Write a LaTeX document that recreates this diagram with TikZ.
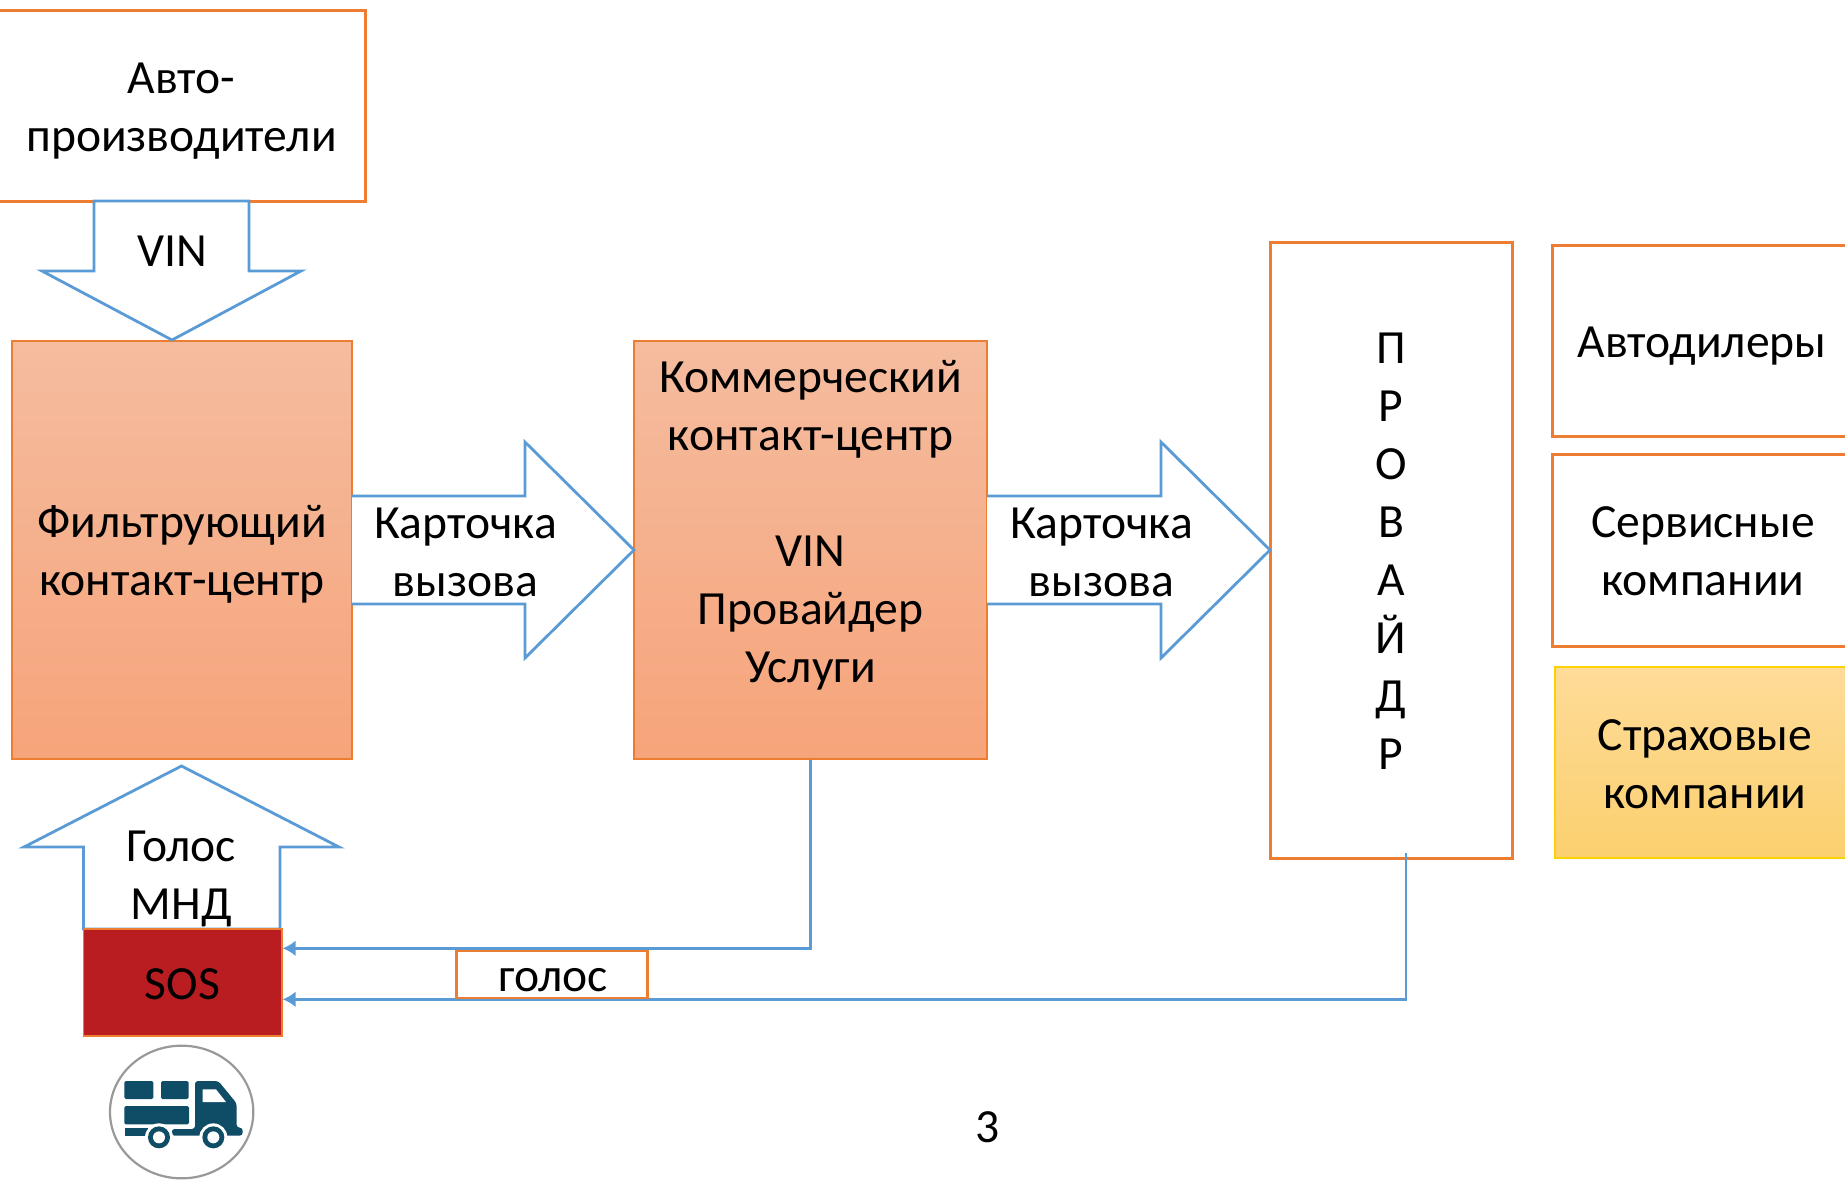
\documentclass[tikz,border=0pt]{standalone}
\usepackage{fontspec}
\setmainfont{Carlito}
\usetikzlibrary{arrows.meta,calc}
\definecolor{orng}{HTML}{ED7D31}
\definecolor{blu}{HTML}{5B9BD5}
\definecolor{sosred}{HTML}{B91C21}
\definecolor{truck}{HTML}{0F4C66}
\definecolor{salmonA}{HTML}{F5BC9F}
\definecolor{salmonB}{HTML}{F6A47A}
\definecolor{goldA}{HTML}{FEDB98}
\definecolor{goldB}{HTML}{FBD06F}
\tikzset{
  x=1pt,y=-1pt,
  txt/.style={font=\fontsize{47.6}{58}\selectfont,align=center,inner sep=0pt,text=black},
  wbox/.style={rectangle,draw=orng,line width=3pt,fill=white},
  grad/.style={rectangle,draw=orng,line width=1.4pt,top color=salmonA,bottom color=salmonB},
  gold/.style={rectangle,draw=yellow!70!orange,line width=1.4pt,top color=goldA,bottom color=goldB},
  barrow/.style={draw=blu,line width=2.8pt,fill=white,line join=miter},
  conn/.style={draw=blu,line width=2.8pt,-{Latex[length=13pt,width=16pt]}},
}
\begin{document}
\begin{tikzpicture}
\useasboundingbox (0,0) rectangle (1845,1179);
% boxes
\node[wbox,minimum width=370pt,minimum height=191pt] (maker) at (180,105.5) {};
\node[txt] (makerlab) at (181.5,111) {Авто-\\производители};
\node[grad,minimum width=340pt,minimum height=418pt] (filter) at (182,550) {};
\node[txt] (filterlab) at (182,554.5) {Фильтрующий\\контакт-центр};
\node[grad,minimum width=353pt,minimum height=418pt] (comm) at (810.5,550) {};
\node[txt] (commlab) at (810.5,525.5) {Коммерческий\\контакт-центр\\ \\VIN\\Провайдер\\Услуги};
\node[wbox,minimum width=242pt,minimum height=616pt] (prov) at (1391,550) {};
\node[txt] (provlab) at (1391,551.5) {П\\Р\\О\\В\\А\\Й\\Д\\Р};
\node[wbox,minimum width=300pt,minimum height=191pt] (deal) at (1702,340.5) {};
\node[txt] (deallab) at (1702,346.5) {Автодилеры};
\node[wbox,minimum width=300pt,minimum height=192pt] (serv) at (1702,550) {};
\node[txt] (servlab) at (1703,551.5) {Сервисные\\компании};
\node[gold,minimum width=300pt,minimum height=191pt] (ins) at (1705,762.5) {};
\node[txt] (inslab) at (1705,764) {Страховые\\компании};
% block arrows
\draw[barrow] (94,201) -- (249,201) -- (249,271) -- (301,271) -- (172,340) -- (42,271) -- (94,271) -- cycle;
\node[txt] (vinlab) at (172,251) {VIN};
\draw[barrow] (352,496) -- (525,496) -- (525,442) -- (634,550) -- (525,658) -- (525,604) -- (352,604);
\node[txt] (card1) at (465.5,552) {Карточка\\вызова};
\draw[barrow] (987,496) -- (1161,496) -- (1161,442) -- (1270,550) -- (1161,658) -- (1161,604) -- (987,604);
\node[txt] (card2) at (1101.5,552) {Карточка\\вызова};
\draw[barrow] (83.5,929) -- (83.5,847) -- (24,847) -- (181.5,766) -- (339,847) -- (280,847) -- (280,929) -- cycle;
\node[txt] (voice) at (181.5,878.5) {Голос\\МНД};
% SOS
\node[rectangle,draw=orng,line width=1.4pt,fill=sosred,minimum width=198.5pt,minimum height=107pt] (sos) at (182.75,982.5) {};
\node[txt] (soslab) at (182.5,984) {SOS};
% connectors
\coordinate (sosA) at ($(sos.north east)+(0,20)$);
\coordinate (sosB) at ($(sos.north east)+(0,71)$);
\coordinate (provOut) at (1406,853);
\draw[conn] (comm.south) |- (sosA);
\draw[conn] (provOut) |- (sosB);
\node[rectangle,draw=orng,line width=2.6pt,fill=white,minimum width=191.5pt,minimum height=47pt] (golos) at (552,974.5) {};
\node[txt] (goloslab) at (553,980) {голос};
% page number
\node[txt] (pg) at (988,1127) {3};
% truck icon
\begin{scope}[shift={(60,1000)},scale=1/3]
\draw[color=gray!80,line width=2.2pt] (365,336) ellipse[x radius=215,y radius=199];
\fill[truck,rounded corners=1.5pt] (193,243) rectangle (280,297);
\fill[truck,rounded corners=1.5pt] (303,243) rectangle (386,297);
\fill[truck,rounded corners=1.5pt] (193,318) rectangle (387,373);
\fill[truck] (195,385) rectangle (265,407);
\fill[truck,rounded corners=3pt] (405,243) -- (475,243) -- (530,310) -- (530,383) -- (548,383) -- (548,407) -- (335,407) -- (335,387) -- (405,387) -- cycle;
\fill[white] (428,268) -- (468,268) -- (498,306) -- (428,306) -- cycle;
\fill[white] (297,412) circle[radius=42];
\fill[white] (460,412) circle[radius=42];
\fill[truck] (297,412) circle[radius=33];
\fill[truck] (460,412) circle[radius=33];
\fill[white] (297,412) circle[radius=18];
\fill[white] (460,412) circle[radius=18];
\end{scope}
\end{tikzpicture}
\end{document}
